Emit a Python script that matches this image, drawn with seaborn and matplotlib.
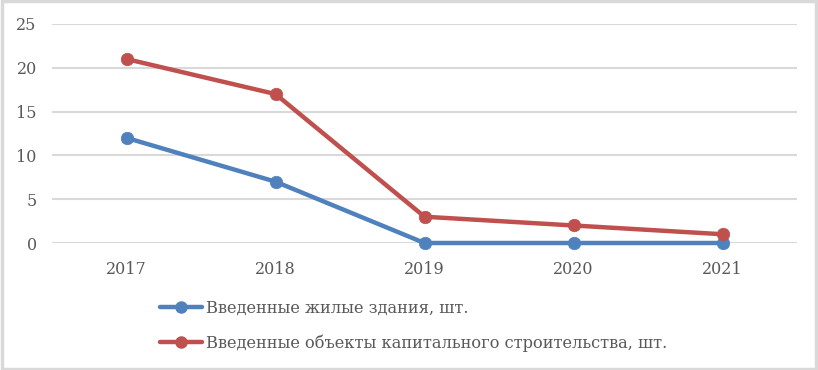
import matplotlib
matplotlib.use("Agg")
import matplotlib.pyplot as plt
import seaborn as sns
import numpy as np

sns.set_theme(style="white")
plt.rcParams['font.family'] = ['DejaVu Serif']

# data
years = ["2017", "2018", "2019", "2020", "2021"]
housing = [12, 7, 0, 0, 0]
capital = [21, 17, 3, 2, 1]
labels = ["Введенные жилые здания, шт.",
          "Введенные объекты капитального строительства, шт."]
colors = ["#4F81BD", "#C0504D"]

pos = np.arange(len(years))

fig = plt.figure(figsize=(8.18, 3.70), dpi=100)
ax = fig.add_axes([52 / 818, 1 - 243 / 370, 745 / 818, 219 / 370])

for vals, c, lab in zip([housing, capital], colors, labels):
    sns.lineplot(x=pos, y=vals, color=c, marker="o", markersize=9,
                 markeredgecolor=c, markeredgewidth=0.5, linewidth=3.2,
                 ax=ax, label=lab, legend=False, clip_on=False)

ax.set_xlim(-0.5, len(years) - 0.5)
ax.set_ylim(0, 25)
ax.set_yticks([0, 5, 10, 15, 20, 25])
ax.set_xticks(pos)
ax.set_xticklabels(years)
ax.grid(axis="y", color="#D9D9D9", linewidth=1.5)
ax.set_axisbelow(True)
for s in ax.spines.values():
    s.set_visible(False)
ax.tick_params(axis="both", colors="#595959", labelsize=11.5, length=0)
ax.tick_params(axis="x", pad=13)
ax.tick_params(axis="y", pad=11)

# legend below the plot
handles = [plt.Line2D([], [], color=c, marker="o", markersize=9,
                      markeredgewidth=0, linewidth=3.2) for c in colors]
fig.legend(handles, labels, loc="upper left", bbox_to_anchor=(145 / 818, 1 - 285 / 370),
           frameon=False, fontsize=11.7, handlelength=2.6, handletextpad=0.25,
           labelspacing=1.1, labelcolor="#595959")

# outer border
fig.patches.append(plt.Rectangle((0.002, 0.004), 0.996, 0.992, transform=fig.transFigure,
                                 fill=False, edgecolor="#D9D9D9", linewidth=2.5))

fig.savefig("out.png", dpi=100)
